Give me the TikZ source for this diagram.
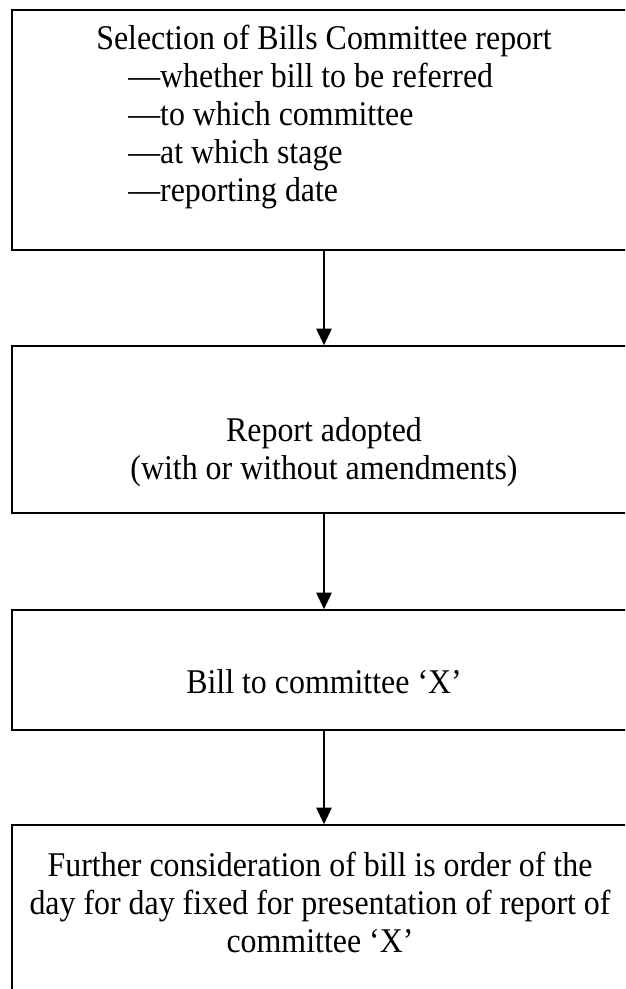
\documentclass[tikz,border=0pt]{standalone}
\usepackage{fontspec}
\setmainfont[FakeStretch=0.92]{Liberation Serif}
\usetikzlibrary{arrows.meta}
\begin{document}
\begin{tikzpicture}[x=0.75pt,y=-0.75pt,
  box/.style={draw, line width=1.1pt, rectangle, inner sep=0pt},
  txt/.style={font=\fontsize{26}{28.5}\selectfont, inner sep=0pt},
  arr/.style={draw, line width=1.1pt, -{Triangle[length=12.5pt,width=11.5pt]}}]
\useasboundingbox (0,0) rectangle (625,989);
\clip (0,0) rectangle (625,989);
\node[box, minimum width=468pt, minimum height=180pt] (b1) at (324,130) {};
\node[box, minimum width=468pt, minimum height=125.25pt] (b2) at (324,429.5) {};
\node[box, minimum width=468pt, minimum height=90pt] (b3) at (324,670) {};
\node[box, minimum width=468pt, minimum height=138.75pt] (b4) at (324,917.5) {};
\draw[arr] (b1.south) -- (b2.north);
\draw[arr] (b2.south) -- (b3.north);
\draw[arr] (b3.south) -- (b4.north);
\node[txt, align=left, anchor=north west] (t1) at (96,25) {Selection of Bills Committee report\\
\hspace*{24pt}—whether bill to be referred\\
\hspace*{24pt}—to which committee\\
\hspace*{24pt}—at which stage\\
\hspace*{24pt}—reporting date};
\node[txt, align=center, anchor=north] (t2) at (324,417) {Report adopted\\(with or without amendments)};
\node[txt, anchor=center] (t3) at (324,682) {Bill to committee ‘X’};
\node[txt, align=center, anchor=north] (t4) at (320,852) {Further consideration of bill is order of the\\day for day fixed for presentation of report of\\committee ‘X’};
\end{tikzpicture}
\end{document}
